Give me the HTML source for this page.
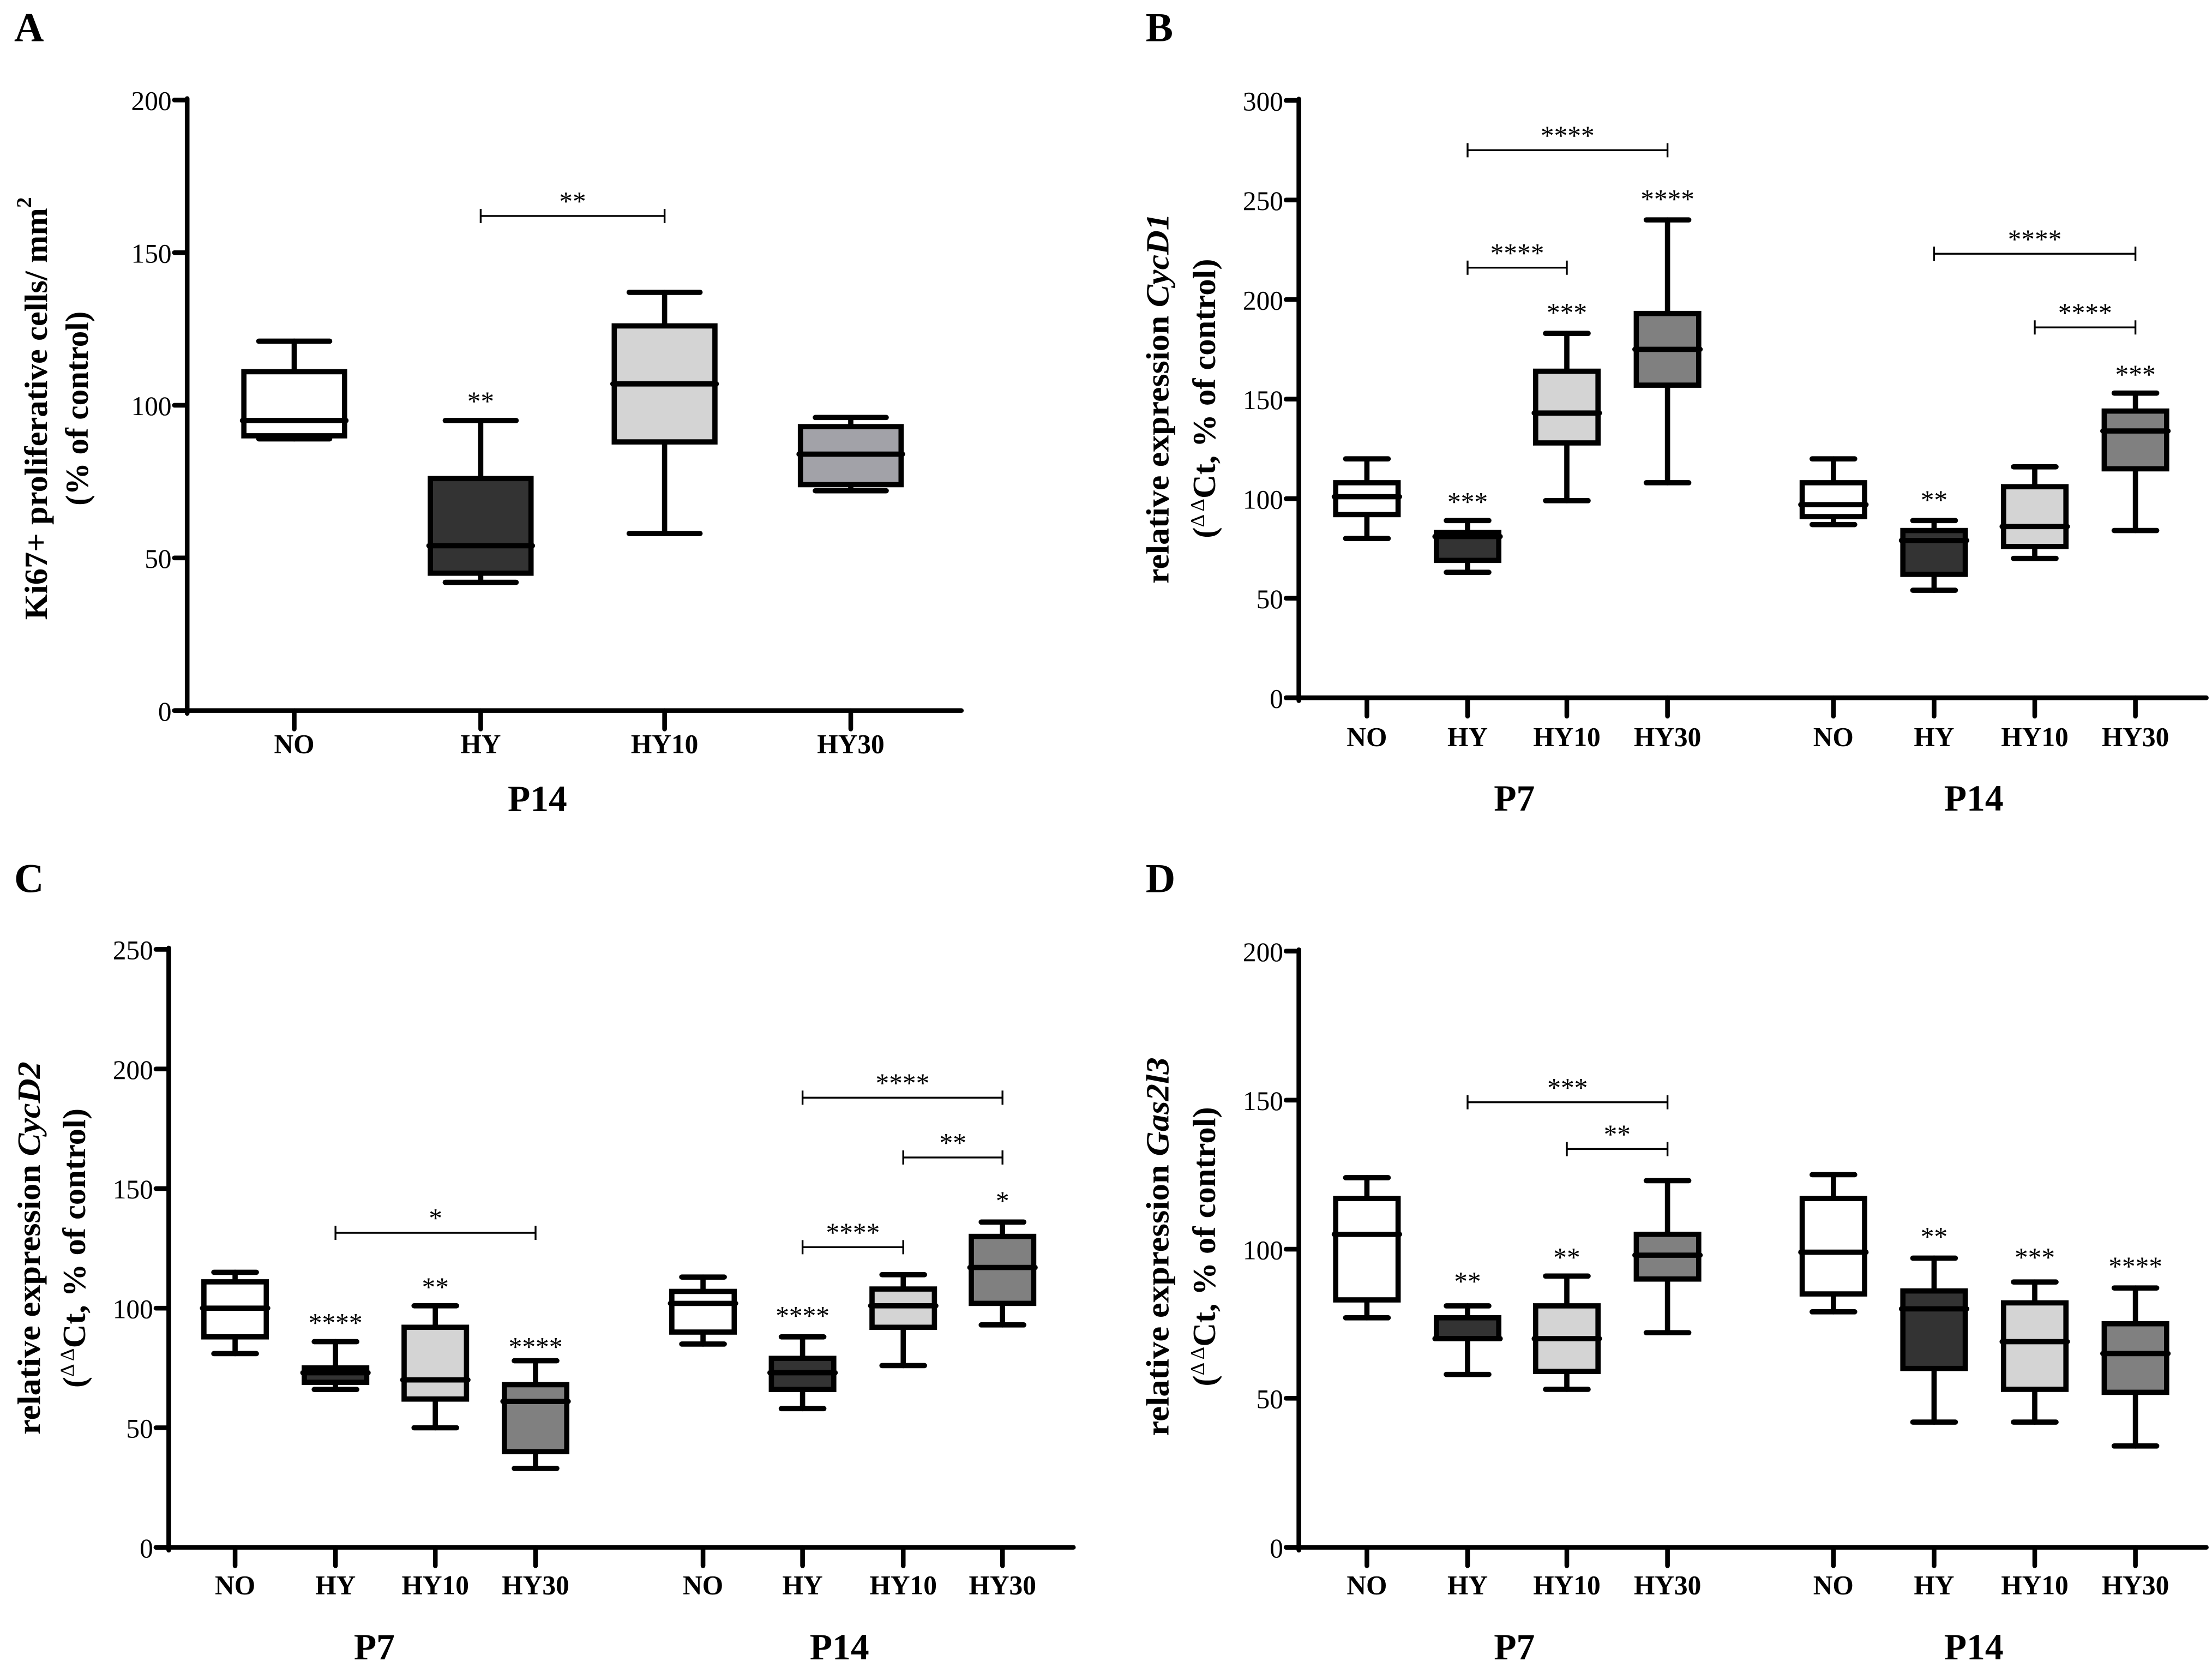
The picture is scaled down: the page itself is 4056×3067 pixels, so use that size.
<!DOCTYPE html>
<html><head><meta charset="utf-8">
<style>
html,body{margin:0;padding:0;background:#fff;}
svg{display:block;}
text{font-family:"Liberation Serif",serif;fill:#000;}
</style></head>
<body>
<svg id="fig" xmlns="http://www.w3.org/2000/svg" width="4056" height="3067" viewBox="0 0 1560 1179.6">
<rect x="0" y="0" width="1560" height="1180" fill="#fff"/>
</svg>
<script>
// ---------- data ----------
const categories = ["NO","HY","HY10","HY30"];
// Panel A (P14)
const aMin = [89, 42, 58, 72];
const aQ1  = [90, 45, 88, 74];
const aMed = [95, 54, 107, 84];
const aQ3  = [111, 76, 126, 93];
const aMax = [121, 95, 137, 96];
const aTicks = [0,50,100,150,200];
// Panel B (CycD1) P7 then P14
const bMin = [80, 63, 99, 108, 87, 54, 70, 84];
const bQ1  = [92, 69, 128, 157, 91, 62, 76, 115];
const bMed = [101, 81, 143, 175, 97, 79, 86, 134];
const bQ3  = [108, 83, 164, 193, 108, 84, 106, 144];
const bMax = [120, 89, 183, 240, 120, 89, 116, 153];
const bTicks = [0,50,100,150,200,250,300];
// Panel C (CycD2)
const cMin = [81, 66, 50, 33, 85, 58, 76, 93];
const cQ1  = [88, 69, 62, 40, 90, 66, 92, 102];
const cMed = [100, 73, 70, 61, 102, 73, 101, 117];
const cQ3  = [111, 75, 92, 68, 107, 79, 108, 130];
const cMax = [115, 86, 101, 78, 113, 88, 114, 136];
const cTicks = [0,50,100,150,200,250];
// Panel D (Gas2l3)
const dMin = [77, 58, 53, 72, 79, 42, 42, 34];
const dQ1  = [83, 70, 59, 90, 85, 60, 53, 52];
const dMed = [105, 70, 70, 98, 99, 80, 69, 65];
const dQ3  = [117, 77, 81, 105, 117, 86, 82, 75];
const dMax = [124, 81, 91, 123, 125, 97, 89, 87];
const dTicks = [0,50,100,150,200];
// significance stars above boxes: [index, value-center, label]
const aStars = [[1,103,"**"]];
const bStars = [[1,101,"***"],[2,196,"***"],[3,253,"****"],[5,102,"**"],[7,165,"***"]];
const cStars = [[1,96,"****"],[2,111,"**"],[3,86,"****"],[5,99,"****"],[7,147,"*"]];
const dStars = [[1,91,"**"],[2,99,"**"],[5,106,"**"],[6,99,"***"],[7,96,"****"]];
// brackets: [from, to, value, label]
const aBrackets = [[1,2,162,"**"]];
const bBrackets = [[1,3,275,"****"],[1,2,216,"****"],[5,7,223,"****"],[6,7,186,"****"]];
const cBrackets = [[1,3,131.5,"*"],[5,7,188,"****"],[6,7,163,"**"],[5,6,125.5,"****"]];
const dBrackets = [[1,3,149.3,"***"],[2,3,133.6,"**"]];

const fills = ["#ffffff","#333333","#d4d4d4","#808080"];
const NS="http://www.w3.org/2000/svg";
const svg=document.getElementById('fig');
function el(tag,attrs,parent){const e=document.createElementNS(NS,tag);for(const k in attrs)e.setAttribute(k,attrs[k]);(parent||svg).appendChild(e);return e;}

function panel(cfg){
  const g=el('g',{});
  
  
  const yS=v=>cfg.y0-(v/cfg.ymax)*(cfg.y0-cfg.ytop);
  const xS=i=>cfg.xs[i];
  const L=el('text',{x:cfg.letter[0],y:cfg.letter[1],'font-size':29,'font-weight':'bold'},g);L.textContent=cfg.letterText;
  
  
  const ya=el('line',{x1:cfg.ax,y1:cfg.ytop-1,x2:cfg.ax,y2:cfg.y0+2,stroke:'#000','stroke-width':3.3,'stroke-linecap':'round'},g);
  
  
  const xa=el('line',{x1:cfg.ax-9,y1:cfg.y0,x2:cfg.xend,y2:cfg.y0,stroke:'#000','stroke-width':3.3,'stroke-linecap':'round'},g);
  
  
  cfg.ticks.forEach(t=>{
    const y=yS(t);
    const tl=el('line',{x1:cfg.ax-9,y1:y,x2:cfg.ax,y2:y,stroke:'#000','stroke-width':3.3,'stroke-linecap':'round'},g);
    
    
    const tx=el('text',{x:cfg.ax-11,y:y+7,'font-size':19,'text-anchor':'end'},g);tx.textContent=t;
    
    
  });
  const tt=el('text',{transform:`translate(${cfg.t1x},${cfg.tcy}) rotate(-90)`,'font-size':23,'font-weight':'bold','text-anchor':'middle',textLength:cfg.t1len,lengthAdjust:'spacingAndGlyphs'},g);
  tt.innerHTML=cfg.t1;
  
  
  const t2=el('text',{transform:`translate(${cfg.t2x},${cfg.tcy}) rotate(-90)`,'font-size':23,'font-weight':'bold','text-anchor':'middle',textLength:cfg.t2len,lengthAdjust:'spacingAndGlyphs'},g);
  t2.innerHTML=cfg.t2;
  
  
  cfg.xs.forEach((x,i)=>{
    const tk=el('line',{x1:x,y1:cfg.y0,x2:x,y2:cfg.y0+13,stroke:'#000','stroke-width':3.3,'stroke-linecap':'round'},g);
    
    
    const lb=el('text',{x:x,y:cfg.catY,'font-size':19,'font-weight':'bold','text-anchor':'middle'},g);
    lb.textContent=categories[i%4];
    
    
  });
  cfg.groups.forEach(gr=>{
    const t=el('text',{x:gr[0],y:cfg.grpY,'font-size':26,'font-weight':'bold','text-anchor':'middle'},g);t.textContent=gr[1];
    
    
  });
  const hw=cfg.hw, cw=cfg.cw, sw=3.7;
  cfg.mins.forEach((_,i)=>{
    const x=xS(i);
    const bg=el('g',{},g);
    
    
    const c={stroke:'#000','stroke-width':sw,'stroke-linecap':'round'};
    el('line',Object.assign({x1:x,y1:yS(cfg.maxs[i]),x2:x,y2:yS(cfg.q3[i])},c),bg);
    el('line',Object.assign({x1:x,y1:yS(cfg.q1[i]),x2:x,y2:yS(cfg.mins[i])},c),bg);
    el('line',Object.assign({x1:x-cw,y1:yS(cfg.maxs[i]),x2:x+cw,y2:yS(cfg.maxs[i])},c),bg);
    el('line',Object.assign({x1:x-cw,y1:yS(cfg.mins[i]),x2:x+cw,y2:yS(cfg.mins[i])},c),bg);
    el('rect',{x:x-hw,y:yS(cfg.q3[i]),width:2*hw,height:Math.max(0.5,yS(cfg.q1[i])-yS(cfg.q3[i])),fill:(cfg.fills||fills)[i%4],stroke:'#000','stroke-width':sw},bg);
    el('line',Object.assign({x1:x-hw-1,y1:yS(cfg.med[i]),x2:x+hw+1,y2:yS(cfg.med[i])},c),bg);
  });
  cfg.stars.forEach(s=>{
    const t=el('text',{x:xS(s[0]),y:yS(s[1])+10,'font-size':19,'text-anchor':'middle'},g);t.textContent=s[2];
    
    
  });
  cfg.brackets.forEach(b=>{
    const x1=xS(b[0]),x2=xS(b[1]),y=yS(b[2]);
    const bg=el('g',{},g);
    
    
    el('path',{d:`M${x1},${y-5}V${y+5}M${x1},${y}H${x2}M${x2},${y-5}V${y+5}`,stroke:'#000','stroke-width':1.3,fill:'none'},bg);
    const t=el('text',{x:(x1+x2)/2,y:y-4,'font-size':19,'text-anchor':'middle'},bg);t.textContent=b[3];
  });
}

const dd='<tspan font-size="14" font-weight="normal" dy="-8">Δ Δ</tspan><tspan dy="8">Ct, % of control)</tspan>';
panel({name:'panel-a',letterText:'A',letter:[10,29],ax:132,xend:678,y0:501,ytop:70.5,ymax:200,ticks:aTicks,
  xs:[207.5,339,468.7,600],hw:35.5,cw:25,catY:531,grpY:572,groups:[[379,'P14']],
  t1x:33,t2x:62,tcy:288,t1len:298,t2len:137,t1:'Ki67+ proliferative cells/ mm<tspan font-size="15" dy="-11">2</tspan>',t2:'(% of control)',
  mins:aMin,q1:aQ1,med:aMed,q3:aQ3,maxs:aMax,stars:aStars,brackets:aBrackets,
  fills:["#ffffff","#333333","#d4d4d4","#a2a2a8"]});
panel({name:'panel-b',letterText:'B',letter:[808,29],ax:916,xend:1556,y0:492,ytop:70.8,ymax:300,ticks:bTicks,
  xs:[964,1035,1105,1176,1293,1364,1435,1506],hw:22,cw:15,catY:526,grpY:571.5,groups:[[1068,'P7'],[1392,'P14']],
  t1x:824,t2x:857,tcy:281,t1len:261,t2len:197,t1:'relative expression <tspan font-style="italic">CycD1</tspan>',t2:'('+dd,
  mins:bMin,q1:bQ1,med:bMed,q3:bQ3,maxs:bMax,stars:bStars,brackets:bBrackets});
panel({name:'panel-c',letterText:'C',letter:[10,629],ax:119,xend:757,y0:1091,ytop:669.4,ymax:250,ticks:cTicks,
  xs:[165.8,236.6,307,377.7,495.8,566,637,707],hw:22,cw:15,catY:1124,grpY:1170,groups:[[264,'P7'],[592,'P14']],
  t1x:28,t2x:60,tcy:880,t1len:263,t2len:197,t1:'relative expression <tspan font-style="italic">CycD2</tspan>',t2:'('+dd,
  mins:cMin,q1:cQ1,med:cMed,q3:cQ3,maxs:cMax,stars:cStars,brackets:cBrackets});
panel({name:'panel-d',letterText:'D',letter:[808,629],ax:916,xend:1556,y0:1091,ytop:670.6,ymax:200,ticks:dTicks,
  xs:[964,1035,1105,1176,1293,1364,1435,1506],hw:22,cw:15,catY:1124,grpY:1170,groups:[[1068,'P7'],[1392,'P14']],
  t1x:824,t2x:857,tcy:879,t1len:267,t2len:197,t1:'relative expression <tspan font-style="italic">Gas2l3</tspan>',t2:'('+dd,
  mins:dMin,q1:dQ1,med:dMed,q3:dQ3,maxs:dMax,stars:dStars,brackets:dBrackets});
</script>
</body></html>
